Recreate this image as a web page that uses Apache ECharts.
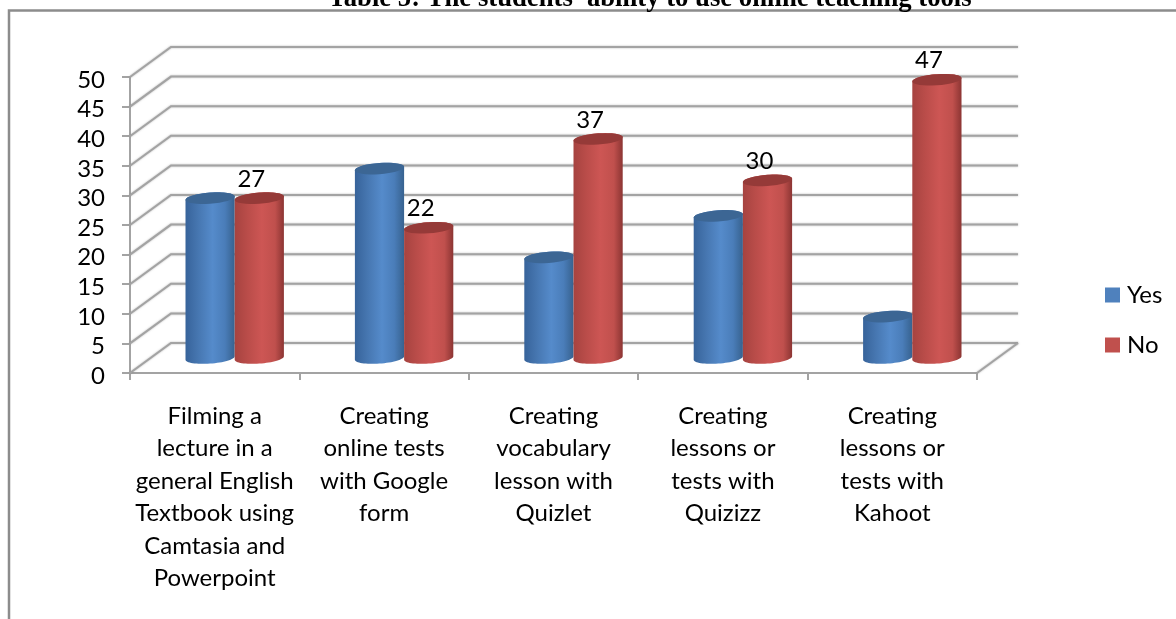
<!DOCTYPE html>
<html>
<head>
<meta charset="utf-8">
<style>
	html, body {margin: 0; padding: 0; background: #fff; overflow: hidden;}
	#chart {width: 1176px; height: 619px; filter: blur(0.4px);}
</style>
<script src="https://cdn.jsdelivr.net/npm/echarts@6/dist/echarts.min.js"></script>
</head>
<body>
<div id="chart"></div>
<script>
const categories = [
	'Filming a\nlecture in a\ngeneral English\nTextbook using\nCamtasia and\nPowerpoint',
	'Creating\nonline tests\nwith Google\nform',
	'Creating\nvocabulary\nlesson with\nQuizlet',
	'Creating\nlessons or\ntests with\nQuizizz',
	'Creating\nlessons or\ntests with\nKahoot'
];
const yesValues = [27, 32, 17, 24, 7];
const noValues = [27, 22, 37, 30, 47];
const wallTicks = [0, 5, 10, 15, 20, 25, 30, 35, 40, 45, 50];

const FONT = 'Lato';
// fake 3D: how far the back wall sits from the front axes, in pixels
const DEPTH_X = 41;
const DEPTH_Y = -30;
const RX = 24.6;
const RY = 5.6;
const TILT = 0.07;

const chart = echarts.init(document.getElementById('chart'));

// walls and floor: every line hangs off the value axis
const renderWall = (params, api) => {
	const v = api.value(0);
	const left = api.coord([0, v]);
	const size = api.size([1, 0])[0];
	left[0] -= size / 2;
	const right = left[0] + size * categories.length;
	const lineStyle = {
		fill: 'none',
		stroke: '#a3a3a3',
		lineWidth: 2,
		shadowBlur: 2,
		shadowColor: 'rgba(120,120,120,0.55)'
	};
	const children = [{
		type: 'polyline',
		shape: {
			points: [
				[left[0], left[1]],
				[left[0] + DEPTH_X, left[1] + DEPTH_Y],
				[right + DEPTH_X, left[1] + DEPTH_Y]
			]
		},
		style: lineStyle
	}];
	if (v === 0) {
		children.push({
			type: 'line',
			shape: {x1: right, y1: left[1], x2: right + DEPTH_X, y2: left[1] + DEPTH_Y},
			style: lineStyle
		});
	}
	return {type: 'group', children};
};

const ellipseArc = (cx, cy, from, to) => {
	const pts = [];
	for (let i = 0; i <= 32; i++) {
		const t = from + (to - from) * i / 32;
		pts.push([cx + RX * Math.cos(t), cy + RY * Math.sin(t) - TILT * RX * Math.cos(t)]);
	}
	return pts;
};

const makeCylinder = (side, stops, topColor, showLabel) => (params, api) => {
	const cat = api.value(0);
	const val = api.value(1);
	const base = api.coord([cat, 0]);
	const top = api.coord([cat, val]);
	const cx = base[0] + DEPTH_X / 2 - 0.5 + side * RX;
	const by = base[1] + DEPTH_Y / 2;
	const ty = top[1] + DEPTH_Y / 2;
	const body = ellipseArc(cx, by, 0, Math.PI).concat(ellipseArc(cx, ty, Math.PI, 2 * Math.PI));
	const children = [{
		type: 'polygon',
		shape: {points: body},
		style: {
			fill: {
				type: 'linear', x: 0, y: 0, x2: 1, y2: 0,
				colorStops: stops
			}
		}
	}, {
		type: 'polygon',
		shape: {points: ellipseArc(cx, ty, 0, 2 * Math.PI)},
		style: {fill: topColor}
	}];
	if (showLabel) {
		children.push({
			type: 'text',
			style: {
				x: cx - 8,
				y: ty - 19,
				text: String(val),
				fill: '#000',
				font: '24px ' + FONT,
				align: 'center',
				verticalAlign: 'middle'
			}
		});
	}
	return {type: 'group', children};
};

const blueStops = [
	{offset: 0, color: '#37639a'},
	{offset: 0.25, color: '#4676b0'},
	{offset: 0.55, color: '#558bcb'},
	{offset: 0.8, color: '#4a7db9'},
	{offset: 1, color: '#37628f'}
];
const redStops = [
	{offset: 0, color: '#a64340'},
	{offset: 0.25, color: '#b94c49'},
	{offset: 0.55, color: '#cd5654'},
	{offset: 0.82, color: '#c0504d'},
	{offset: 1, color: '#8c3533'}
];

chart.setOption({
	animation: false,
	backgroundColor: '#fff',
	title: {
		text: "Table 5: The students' ability to use online teaching tools",
		left: 650,
		textAlign: 'center',
		top: -14,
		padding: 0,
		textStyle: {fontFamily: 'Liberation Serif', fontSize: 26.7, fontWeight: 'bold', color: '#000'}
	},
	grid: {left: 130, right: 199, top: 77, bottom: 246},
	legend: {
		orient: 'vertical',
		left: 1100,
		top: 278,
		itemWidth: 15,
		itemHeight: 15,
		itemGap: 26,
		icon: 'rect',
		data: ['Yes', 'No'],
		textStyle: {fontFamily: FONT, fontSize: 24, color: '#000', lineHeight: 22, padding: [0, 0, 0, 2]}
	},
	xAxis: {
		type: 'category',
		data: categories,
		boundaryGap: true,
		axisLine: {lineStyle: {color: '#a3a3a3', width: 2}},
		axisTick: {show: true, alignWithLabel: false, length: 7, lineStyle: {color: '#a3a3a3', width: 2}},
		axisLabel: {
			interval: 0,
			margin: 27,
			fontFamily: FONT,
			fontSize: 24,
			lineHeight: 32.5,
			color: '#000',
			verticalAlign: 'top'
		}
	},
	yAxis: {
		type: 'value',
		min: 0,
		max: 50,
		interval: 5,
		splitLine: {show: false},
		axisLine: {show: true, lineStyle: {color: '#a3a3a3', width: 2}},
		axisTick: {show: true, length: 8, lineStyle: {color: '#a3a3a3', width: 2}},
		axisLabel: {
			margin: 25,
			formatter: '{v|{value}}',
			rich: {v: {fontFamily: FONT, fontSize: 24, color: '#000', padding: [6, 0, 0, 0]}}
		}
	},
	graphic: [{
		type: 'polyline',
		silent: true,
		z: -1,
		shape: {points: [[9, 625], [9, 10.5], [1180, 10.5]]},
		style: {fill: 'none', stroke: '#8c8c8c', lineWidth: 2.5}
	}],
	series: [
		{
			type: 'custom',
			name: 'wall',
			silent: true,
			z: 1,
			data: wallTicks.map(v => [v]),
			encode: {y: 0},
			renderItem: renderWall,
			clip: false
		},
		{
			type: 'custom',
			name: 'Yes',
			z: 2,
			itemStyle: {color: '#4f81bd'},
			data: yesValues.map((v, i) => [i, v]),
			encode: {x: 0, y: 1},
			renderItem: makeCylinder(-1, blueStops, '#3c6694', false),
			clip: false
		},
		{
			type: 'custom',
			name: 'No',
			z: 3,
			itemStyle: {color: '#c0504d'},
			data: noValues.map((v, i) => [i, v]),
			encode: {x: 0, y: 1},
			renderItem: makeCylinder(1, redStops, '#953a38', true),
			clip: false
		}
	]
});

window.addEventListener('resize', () => chart.resize());
</script>
</body>
</html>
